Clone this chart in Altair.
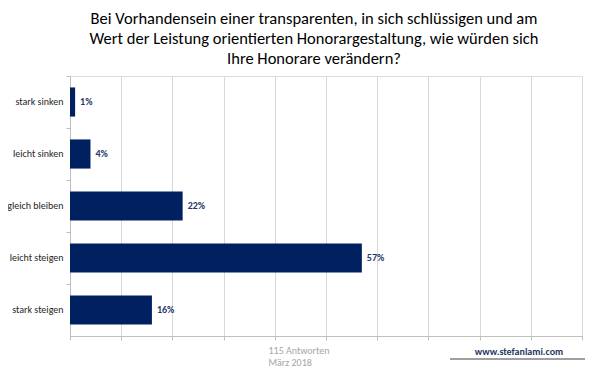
import altair as alt
import pandas as pd

categories = ["stark sinken", "leicht sinken", "gleich bleiben", "leicht steigen", "stark steigen"]
values = [1, 4, 22, 57, 16]
title_lines = [
    "Bei Vorhandensein einer transparenten, in sich schlüssigen und am",
    "Wert der Leistung orientierten Honorargestaltung, wie würden sich",
    "Ihre Honorare verändern?",
]
footer_lines = ["115 Antworten", "März 2018"]
website = "www.stefanlami.com"

df = pd.DataFrame({"cat": categories, "value": values})

FONT = "Carlito, Lato, sans-serif"
NAVY = "#002060"

x_enc = alt.X(
    "value:Q",
    scale=alt.Scale(domain=[0, 100], nice=False),
    axis=alt.Axis(
        values=list(range(0, 101, 10)),
        labels=False,
        grid=True,
        gridColor="#d9d9d9",
        domainColor="#bfbfbf",
        tickColor="#bfbfbf",
        tickSize=4,
        title=footer_lines,
        titleFont=FONT,
        titleFontSize=10,
        titleFontWeight="normal",
        titleColor="#a6a6a6",
        titleAlign="left",
        titleAnchor="start",
        titleBaseline="top",
        titleX=198,
        titleY=9,
        titleLineHeight=12,
    ),
)
y_enc = alt.Y(
    "cat:N",
    sort=categories,
    scale=alt.Scale(paddingInner=0, paddingOuter=0),
    axis=alt.Axis(
        title=None,
        labelFont=FONT,
        labelFontSize=10,
        labelColor="#262626",
        labelPadding=3,
        domainColor="#bfbfbf",
        tickColor="#bfbfbf",
        tickSize=4,
        bandPosition=0,
    ),
)

bars = alt.Chart(df).mark_bar(color=NAVY, height=alt.RelativeBandSize(0.56)).encode(x=x_enc, y=y_enc)

labels = (
    alt.Chart(df)
    .transform_calculate(label="datum.value + '%'")
    .mark_text(align="left", baseline="middle", dx=5, font=FONT, fontSize=10,
               fontWeight="bold", color="#1f3864")
    .encode(x="value:Q", y=alt.Y("cat:N", sort=categories), text="label:N")
)

site = (
    alt.Chart(pd.DataFrame({"t": [website]}))
    .mark_text(align="center", baseline="middle", font=FONT, fontSize=10,
               fontWeight="bold", color="#1f3864")
    .encode(x=alt.value(449), y=alt.value(276), text="t:N")
)

underline = (
    alt.Chart(pd.DataFrame({"a": [0]}))
    .mark_rule(color="#7f7f7f", strokeWidth=1.5)
    .encode(x=alt.value(380), x2=alt.value(515), y=alt.value(283))
)

chart = (
    alt.layer(bars, labels, site, underline)
    .properties(
        width=512,
        height=260,
        autosize=alt.AutoSizeParams(type="none"),
        padding={"left": 62, "top": 68, "right": 10, "bottom": 40},
        title=alt.TitleParams(
            text=title_lines,
            font=FONT,
            fontSize=16.5,
            fontWeight="normal",
            color="#000000",
            anchor="middle",
            dx=-12,
            offset=8,
            lineHeight=20,
        ),
    )
    .configure_view(stroke=None)
    .configure(background="white")
)

chart.save("out.html", embed_options={"renderer": "svg", "actions": False})
